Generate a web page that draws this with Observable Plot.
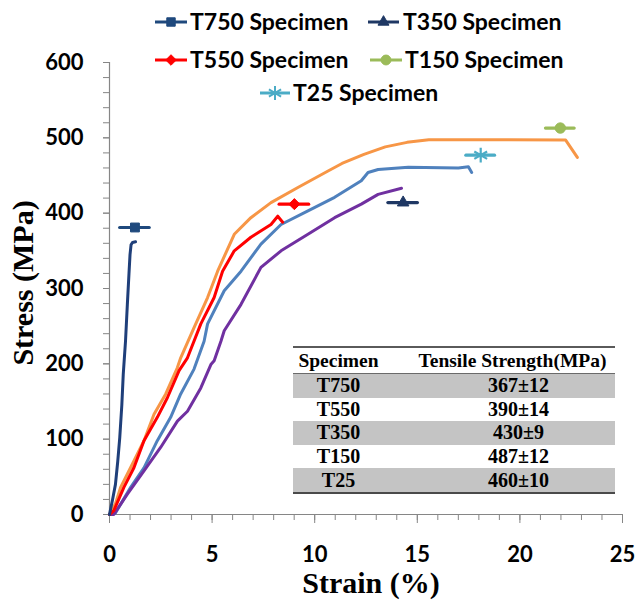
<!DOCTYPE html>
<html>
<head>
<meta charset="utf-8">
<script src="https://cdn.jsdelivr.net/npm/d3@7"></script>
<script src="https://cdn.jsdelivr.net/npm/@observablehq/plot@0.6"></script>
<style>
  html, body { margin: 0; padding: 0; background: #fff; }
  #wrap { position: relative; width: 636px; height: 607px; overflow: hidden; }
  #wrap svg.overlay { position: absolute; left: 0; top: 0; }
  .title { position: absolute; font-family: "Liberation Serif", "Times New Roman", serif; font-weight: bold;
           font-size: 30px; color: #000; white-space: nowrap; line-height: 1; }
  #xtitle { left: 371px; top: 583px; transform: translate(-50%, -50%); }
  #ytitle { left: 23px; top: 283px; transform: translate(-50%, -50%) rotate(-90deg); }
  #tbl { position: absolute; left: 293px; top: 346px; width: 322px;
         font-family: "Liberation Serif", "Times New Roman", serif; font-weight: bold; color: #000; }
  #tbl .row { display: flex; height: 23.6px; align-items: center; }
  #tbl .hdr { height: 25px; border-top: 2px solid #5a5a5a; border-bottom: 1px solid #6a6a6a; font-size: 19.5px; }
  #tbl .gray { background: #c4c4c4; }
  #tbl .c1 { width: 91px; text-align: center; }
  #tbl .c2 { width: 231px; text-align: center; box-sizing: border-box; padding-left: 38px; }
  #tbl .hdr .c2 { padding-left: 26px; }
  #tbl .body { font-size: 20px; }
  #tbl .last { border-bottom: 2.5px solid #4a4a4a; }
</style>
</head>
<body>
<div id="wrap"></div>
<script>
// ---------------- data ----------------
const series = ["T750", "T550", "T350", "T150", "T25"];

const t750Strain = [0, 0.15, 0.29, 0.4, 0.5, 0.6, 0.67, 0.78, 0.87, 0.95, 1.0, 1.05, 1.12, 1.27];
const t750Stress = [0, 20, 40, 70, 102, 145, 186, 230, 279, 320, 345, 358, 361, 362];

const t550Strain = [0, 0.21, 0.7, 1.19, 1.68, 2.33, 2.82, 3.39, 3.8, 4.45, 5.1, 5.51, 6.08, 6.89, 7.87, 8.2, 8.44];
const t550Stress = [0, 5, 36, 62, 98, 129, 155, 191, 208, 253, 288, 323, 350, 368, 385, 396, 388];

const t350Strain = [0, 0.21, 0.87, 1.68, 2.49, 3.31, 3.8, 4.45, 4.94, 5.1, 5.43, 5.59, 6.41, 7.38, 8.36, 9.67, 10.97, 12.27, 13.09, 14.23];
const t350Stress = [0, 0, 27, 58, 89, 124, 137, 168, 199, 204, 230, 244, 279, 328, 350, 372, 394, 412, 425, 433];

const t150Strain = [0, 0.3, 0.54, 1.19, 1.68, 2.17, 2.74, 3.31, 3.47, 4.12, 4.78, 5.27, 6.08, 6.89, 7.87, 9.18, 10.65, 11.33, 12.4, 13.44, 14.5, 15.56, 19, 22.23, 22.8];
const t150Stress = [0, 15, 36, 71, 98, 133, 160, 195, 208, 248, 288, 323, 372, 394, 414, 434, 456, 466, 478, 488, 494, 497.5, 497.5, 497, 474];

const t25Strain = [0, 0.29, 1.03, 1.68, 2.33, 2.98, 3.47, 4.12, 4.61, 4.78, 5.59, 6.41, 7.38, 8.36, 9.67, 10.97, 12.27, 12.6, 13.09, 14.56, 17.0, 17.49, 17.65];
const t25Stress = [0, 2, 36, 62, 98, 129, 160, 193, 230, 253, 297, 323, 359, 385, 403, 421, 443, 454, 458, 461, 460, 461.5, 454];

// summary markers (strain, stress, horizontal half-width)
const markerStrain = [1.24, 9.01, 14.31, 21.97, 18.09];
const markerStress = [381, 412, 414, 513, 477];
const markerErr = [0.72, 0.72, 0.72, 0.7, 0.7];

// table
const tableSpecimen = ["T750", "T550", "T350", "T150", "T25"];
const tableStrength = ["367±12", "390±14", "430±9", "487±12", "460±10"];
const tableHeader = ["Specimen", "Tensile Strength(MPa)"];

// legend (order as in the figure)
const legendSeries = ["T750", "T350", "T550", "T150", "T25"];
const legendLabels = ["T750 Specimen", "T350 Specimen", "T550 Specimen", "T150 Specimen", "T25 Specimen"];

// axes
const xTicks = [0, 5, 10, 15, 20, 25];
const xMinor = d3.range(0, 26, 1);
const yTicks = [0, 100, 200, 300, 400, 500, 600];
const yMinor = d3.range(0, 601, 20);
const xTitle = "Strain (%)";
const yTitle = "Stress (MPa)";

// ---------------- styles ----------------
const curveColor = { T750: "#1f3f7a", T550: "#ff0000", T350: "#7030a0", T150: "#f79646", T25: "#4f81bd" };
const markColor = { T750: "#1f497d", T550: "#ff0000", T350: "#1f3864", T150: "#9bbb59", T25: "#4bacc6" };
const markSymbol = { T750: "square", T550: "diamond2", T350: "triangle", T150: "circle", T25: "asterisk" };
const markR = { T750: 5, T550: 5, T350: 4.3, T150: 5.2, T25: 7 };
const drawOrder = ["T150", "T25", "T350", "T550", "T750"];
const axisGray = "#868686";
const tickFont = "Lato, 'Open Sans', sans-serif";

// ---------------- build ----------------
const curves = {
  T750: t750Strain.map((x, i) => ({ x, y: t750Stress[i] })),
  T550: t550Strain.map((x, i) => ({ x, y: t550Stress[i] })),
  T350: t350Strain.map((x, i) => ({ x, y: t350Stress[i] })),
  T150: t150Strain.map((x, i) => ({ x, y: t150Stress[i] })),
  T25: t25Strain.map((x, i) => ({ x, y: t25Stress[i] }))
};
const markers = series.map((s, i) => ({ series: s, x: markerStrain[i], y: markerStress[i], e: markerErr[i] }));

const marks = [
  Plot.axisX({ ticks: xMinor, tickSize: 6, tickFormat: () => "", stroke: axisGray, label: null }),
  Plot.axisX({ ticks: xTicks, tickSize: 9, tickPadding: 23, stroke: axisGray, fill: "#000",
               fontSize: 22, fontWeight: "bold", fontFamily: tickFont, label: null, tickFormat: d => String(d) }),
  Plot.axisY({ ticks: yMinor, tickSize: 6, tickFormat: () => "", stroke: axisGray, label: null }),
  Plot.axisY({ ticks: yTicks, tickSize: 6, tickPadding: 20, stroke: axisGray, fill: "#000",
               fontSize: 22, fontWeight: "bold", fontFamily: tickFont, label: null, tickFormat: d => String(d) }),
  Plot.ruleY([0], { stroke: axisGray, strokeWidth: 1.2 }),
  Plot.ruleX([0], { stroke: axisGray, strokeWidth: 1.2 })
];
for (const s of drawOrder) {
  marks.push(Plot.line(curves[s], { x: "x", y: "y", stroke: curveColor[s], strokeWidth: 3, strokeLinejoin: "round", strokeLinecap: "round" }));
}
for (const m of markers) {
  marks.push(Plot.ruleY([m], { y: "y", x1: d => d.x - d.e, x2: d => d.x + d.e, stroke: markColor[m.series], strokeWidth: 3.2, strokeLinecap: "round" }));
  const isStar = markSymbol[m.series] === "asterisk";
  marks.push(Plot.dot([m], { x: "x", y: "y", symbol: markSymbol[m.series], r: markR[m.series],
    fill: isStar ? "none" : markColor[m.series], stroke: markColor[m.series], strokeWidth: isStar ? 2.2 : 1 }));
}

const chart = Plot.plot({
  width: 636, height: 607,
  marginLeft: 109, marginRight: 14, marginTop: 62, marginBottom: 93,
  x: { domain: [0, 25], axis: null },
  y: { domain: [0, 600], axis: null },
  style: { background: "#fff", overflow: "visible" },
  marks
});
const wrap = document.getElementById("wrap");
wrap.appendChild(chart);

// ---------------- overlay: legend ----------------
const ov = d3.select(wrap).append("svg").attr("class", "overlay").attr("width", 636).attr("height", 120);

const legendPos = [ // [lineStart, lineEnd, textStart, rowY]
  [155, 187, 190, 22], [368, 399, 403, 22],
  [155, 187, 190, 60], [370, 402, 405, 60],
  [260, 290, 293, 93]
];
const symType = { square: d3.symbolSquare, diamond2: d3.symbolDiamond2 || d3.symbolDiamond, triangle: d3.symbolTriangle,
                  circle: d3.symbolCircle, asterisk: d3.symbolAsterisk || d3.symbolCross };
legendSeries.forEach((s, i) => {
  const [a, b, t, y] = legendPos[i];
  const c = markColor[s];
  ov.append("line").attr("x1", a).attr("x2", b).attr("y1", y).attr("y2", y).attr("stroke", c).attr("stroke-width", 3);
  const sym = markSymbol[s];
  const r = markR[s] * 0.95;
  const path = d3.symbol().type(symType[sym]).size(Math.PI * r * r)();
  ov.append("path").attr("d", path).attr("transform", `translate(${(a + b) / 2},${y})`)
    .attr("fill", sym === "asterisk" ? "none" : c).attr("stroke", c).attr("stroke-width", sym === "asterisk" ? 2 : 1);
  ov.append("text").attr("x", t).attr("y", y).attr("dy", "0.35em")
    .style("font-family", tickFont).style("font-weight", "bold").style("font-size", "23px").attr("fill", "#000")
    .text(legendLabels[i]);
});

// ---------------- axis titles (HTML) ----------------
d3.select(wrap).append("div").attr("class", "title").attr("id", "xtitle").text(xTitle);
d3.select(wrap).append("div").attr("class", "title").attr("id", "ytitle").text(yTitle);

// ---------------- table ----------------
const tbl = d3.select(wrap).append("div").attr("id", "tbl");
const hdr = tbl.append("div").attr("class", "row hdr");
hdr.append("div").attr("class", "c1").text(tableHeader[0]);
hdr.append("div").attr("class", "c2").text(tableHeader[1]);
tableSpecimen.forEach((s, i) => {
  const row = tbl.append("div").attr("class", "row body" + (i % 2 === 0 ? " gray" : "") + (i === tableSpecimen.length - 1 ? " last" : ""));
  row.append("div").attr("class", "c1").text(s);
  row.append("div").attr("class", "c2").text(tableStrength[i]);
});
</script>
</body>
</html>
